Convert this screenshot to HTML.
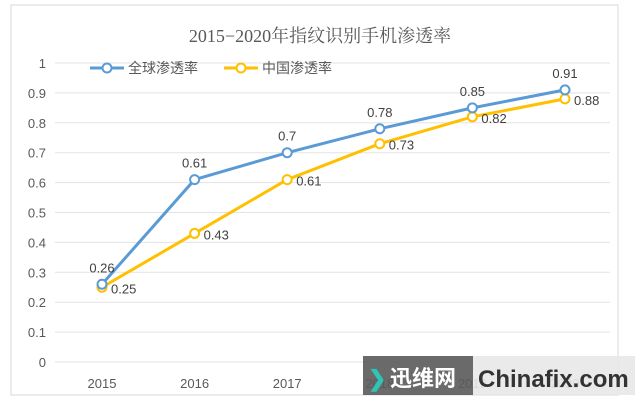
<!DOCTYPE html>
<html><head><meta charset="utf-8"><style>
body{margin:0;background:#fff;}
svg{display:block;font-family:"Liberation Sans","Noto Sans CJK SC",sans-serif;}
</style></head><body>
<svg width="640" height="400">
<rect x="0" y="0" width="640" height="400" fill="#fff"/>
<rect x="11" y="5" width="607" height="390" fill="#fff" stroke="#d9d9d9"/>
<text x="320" y="42" text-anchor="middle" font-size="18" fill="#595959" font-family="Liberation Serif,Noto Serif CJK SC,serif">2015−2020年指纹识别手机渗透率</text>
<g id="grid"></g><g id="ylab"></g><g id="xlab"></g><g id="series"></g>
<g>
<g><line x1="90" y1="68" x2="124" y2="68" stroke="#5b9bd5" stroke-width="3"/><circle cx="107" cy="68" r="4.5" fill="#fff" stroke="#5b9bd5" stroke-width="2"/><text x="128" y="73" font-size="14" fill="#595959">全球渗透率</text></g>
<g><line x1="224" y1="68" x2="258" y2="68" stroke="#ffc000" stroke-width="3"/><circle cx="241" cy="68" r="4.5" fill="#fff" stroke="#ffc000" stroke-width="2"/><text x="262" y="73" font-size="14" fill="#595959">中国渗透率</text></g>
</g>
<g>
<rect x="363" y="356" width="110" height="39" fill="#5a5a5a" opacity="0.9"/>
<rect x="473" y="356" width="162" height="39" fill="#e8e8e8" opacity="0.9"/>
<text x="368" y="386" font-size="22" fill="#2ec4b6" font-weight="bold">❯</text>
<text x="390" y="386" font-size="22" fill="#fff" font-weight="bold">迅维网</text>
<text x="478" y="387" font-size="24" fill="#333" font-weight="bold">Chinafix.com</text>
</g>
</svg>
<script>
const years=["2015","2016","2017","2018","2019","2020"];
const globalVals=[0.26,0.61,0.7,0.78,0.85,0.91];
const chinaVals=[0.25,0.43,0.61,0.73,0.82,0.88];
const yTicks=[0,0.1,0.2,0.3,0.4,0.5,0.6,0.7,0.8,0.9,1];
const yTickLabels=["0","0.1","0.2","0.3","0.4","0.5","0.6","0.7","0.8","0.9","1"];
const NS="http://www.w3.org/2000/svg";
const X=i=>102+i*92.6, Y=v=>362-v*299;
function mk(t,a,p,txt){const e=document.createElementNS(NS,t);for(const k in a)e.setAttribute(k,a[k]);if(txt!==undefined)e.textContent=txt;p.appendChild(e);return e;}
const grid=document.getElementById('grid'),yl=document.getElementById('ylab'),xl=document.getElementById('xlab'),sr=document.getElementById('series');
yTicks.forEach((t,i)=>{
 const l=mk('line',{x1:55,x2:610,y1:Y(t),y2:Y(t),stroke:'#e3e3e3'},grid);
 
 
 const tx=mk('text',{x:46,y:Y(t)+5,'text-anchor':'end','font-size':13,fill:'#595959'},yl,yTickLabels[i]);
 
 
});
years.forEach((y,i)=>{
 const tx=mk('text',{x:X(i),y:388,'text-anchor':'middle','font-size':13,fill:'#595959'},xl,y);
 
 
});
function draw(vals,color,name,above){
 const g=mk('g',{},sr);
 
 
 const pl=mk('polyline',{points:vals.map((v,i)=>X(i)+','+Y(v)).join(' '),fill:'none',stroke:color,'stroke-width':3},g);
 
 
 vals.forEach((v,i)=>{
  const c=mk('circle',{cx:X(i),cy:Y(v),r:4.5,fill:'#fff',stroke:color,'stroke-width':2},g);
  
  
  const t=above?mk('text',{x:X(i),y:Y(v)-12,'text-anchor':'middle','font-size':13,fill:'#404040'},g,String(v))
               :mk('text',{x:X(i)+9,y:Y(v)+6,'font-size':13,fill:'#404040'},g,String(v));
  
  
 });
}
draw(chinaVals,'#ffc000','china-series',false);
draw(globalVals,'#5b9bd5','global-series',true);
</script>
</body></html>
